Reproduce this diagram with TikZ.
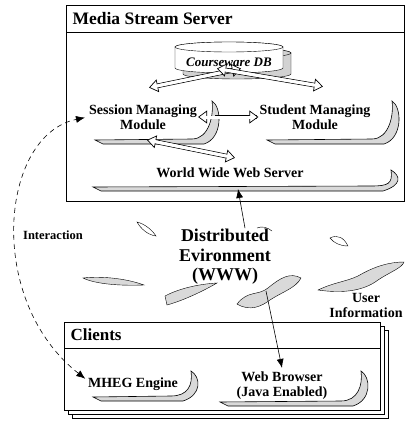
\documentclass[tikz,border=0pt]{standalone}
\usepackage{fontspec}
\setmainfont{Liberation Serif}
\usetikzlibrary{arrows.meta}
\usetikzlibrary{positioning}

% shaded hook panel under a module: left x, right x, hook top y, bar y
\newcommand{\swoosh}[4]{%
\draw[panel] (#1,#4-2) -- (#2-26,#4-3) .. controls (#2-9,#4-3) and (#2-4,#3+14) .. (#2-6,#3)
  .. controls (#2+4,#3+6) and (#2+5,#4-4) .. (#2-14,#4+2) -- (#1+8,#4+2) -- cycle;}

% drum outline: centre x, top y, bottom y, options
\newcommand{\drum}[4]{%
\draw[#4] (#1-54,#2) -- (#1-54,#3) arc[start angle=180,end angle=360,x radius=54pt,y radius=5pt] -- (#1+54,#2)
  arc[start angle=0,end angle=180,x radius=54pt,y radius=5pt] -- cycle;
\draw[#4] (#1,#2) ellipse[x radius=54pt,y radius=5pt];}

\begin{document}
\begin{tikzpicture}[x=1pt,y=-1pt,
  lbl/.style={font=\fontsize{14}{15}\selectfont\bfseries,align=center,inner sep=1pt},
  big/.style={font=\fontsize{18}{19.5}\selectfont\bfseries,align=center,inner sep=1pt},
  panel/.style={draw,fill=gray!30,semithick},
  leaf/.style={draw,fill=gray!30},
  hollowleaf/.style={draw,fill=white},
  dbl/.style={line width=4.6pt,shorten <=7pt,shorten >=7pt,
    postaction={draw=white,line width=3pt,shorten <=6pt,shorten >=6pt},
    postaction={draw,line width=0.7pt,shorten <=0pt,shorten >=0pt,dash pattern=on 0pt off 2000pt,{Triangle[fill=white,length=9pt,width=13pt]}-{Triangle[fill=white,length=9pt,width=13pt]}},
    postaction={draw=white,line width=3pt,shorten <=7pt,shorten >=7pt}},
  ptr/.style={-{Latex[length=9pt,width=7pt]},semithick},
  iaflow/.style={dash pattern=on 5pt off 4pt,semithick,{Latex[length=9pt,width=7pt]}-{Latex[length=9pt,width=7pt]}}]
\useasboundingbox (0,0) rectangle (405,423);

% server box
\draw[semithick] (66,5) rectangle (404,201);
\draw[semithick] (66,32) -- (404,32);
\node[font=\fontsize{17.5}{19}\selectfont\bfseries,anchor=west] (srvtitle) at (69,19) {Media Stream Server};

\drum{237}{53}{74}{fill=gray!35}
\drum{229}{47}{68}{draw,fill=white}
\node[font=\fontsize{13}{15}\selectfont\bfseries\itshape,inner sep=1pt] (db) at (229,62) {Courseware DB};

\node[lbl] (sess) at (143,117) {Session Managing\\Module};
\node[lbl] (stud) at (315,117) {Student Managing\\Module};
\node[lbl] (www) at (230,173) {World Wide Web Server};

\swoosh{95}{218}{101}{142}
\swoosh{267}{398}{101}{142}
\swoosh{93}{397}{170}{189}

\coordinate (sessbar) at (147,140);
\draw[dbl] ([xshift=-80pt,yshift=-20pt]db.south) -- ([xshift=12pt,yshift=-1pt]db.south);
\draw[dbl] ([xshift=94pt,yshift=-19pt]db.south) -- ([xshift=-12pt,yshift=-1pt]db.south);
\draw[dbl,shorten <=17pt,shorten >=1pt] (sess.east) -- (stud.west);
\draw[dbl] (sessbar) -- ([xshift=5pt,yshift=9pt]www.north);

% distributed environment
\node[big] (dist) at (225,257) {Distributed\\Evironment\\(WWW)};
\node[font=\fontsize{12.5}{14}\selectfont\bfseries] (inter) at (53,235) {Interaction};
\node[lbl] (userinfo) at (366,305) {User\\Information};

\coordinate (wwwbar) at (238,189);
\coordinate (distnorth) at ([xshift=20pt]dist.north);
\draw[ptr] (distnorth) -- (wwwbar);

\draw[hollowleaf] (137,222) .. controls (145,224) and (152,230) .. (156,236) .. controls (148,235) and (141,229) .. cycle;
\draw (257,228) .. controls (262,226) and (267,227) .. (272,231);
\draw[hollowleaf] (330,238) .. controls (338,234) and (344,238) .. (348,246) .. controls (340,246) and (334,243) .. cycle;
\draw[leaf] (83,278) .. controls (100,276) and (125,278) .. (144,285) .. controls (120,286) and (95,284) .. cycle;
\draw[leaf] (165,296) .. controls (180,288) and (200,284) .. (217,283) .. controls (205,290) and (185,300) .. (167,305) -- cycle;
\draw[leaf] (237,304) .. controls (248,290) and (258,296) .. (268,288) .. controls (280,278) and (290,272) .. (301,278)
  .. controls (296,288) and (282,292) .. (270,300) .. controls (262,306) and (250,312) .. cycle;
\draw[leaf] (318,290) .. controls (335,282) and (345,282) .. (358,276) .. controls (375,266) and (390,262) .. (404,262)
  .. controls (402,268) and (390,272) .. (378,280) .. controls (365,290) and (345,294) .. cycle;

% clients
\draw[fill=white] (72,330) rectangle (388,418);
\draw[fill=white] (68,326) rectangle (384,414);
\draw[fill=white,semithick] (64,322) rectangle (380,410);
\draw[semithick] (64,348) -- (380,348);
\node[font=\fontsize{17}{19}\selectfont\bfseries,anchor=west] (clients) at (67,335) {Clients};

\node[lbl] (mheg) at (133,384) {MHEG Engine};
\node[lbl] (browser) at (282,386) {Web Browser\\(Java Enabled)};
\swoosh{93}{197}{371}{399}
\swoosh{220}{367}{371}{404}

\coordinate (ribbon) at (266,291);
\draw[ptr] (ribbon) -- ([yshift=3pt]browser.north);

\draw[iaflow,shorten <=2pt,shorten >=3pt] ([yshift=4pt]mheg.west) .. controls (-15,300) and (0,135) .. (sess.west);

\end{tikzpicture}
\end{document}
